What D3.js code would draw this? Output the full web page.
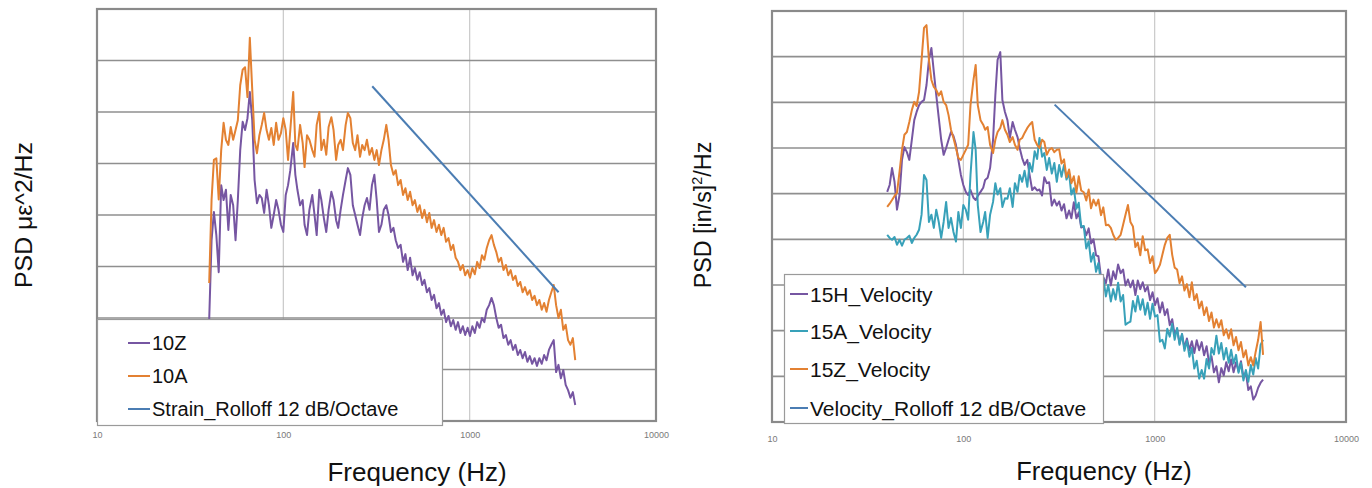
<!DOCTYPE html>
<html><head><meta charset="utf-8">
<script src="https://cdn.jsdelivr.net/npm/d3@7"></script>
<style>html,body{margin:0;padding:0;background:#fff}svg{display:block}</style>
</head><body>
<svg id="c" width="1372" height="488"></svg>
<script>
// ---------- DATA ----------
const xTicks = [10, 100, 1000, 10000];
const freqs = [
40,41.2,42.4,43.7,45,46.4,47.8,49.2,50.7,52.2,
53.8,55.4,57,58.7,60.5,62.3,64.2,66.1,68.1,70.1,
72.2,74.4,76.6,78.9,81.3,83.7,86.2,88.8,91.5,94.2,
97.1,100,103,106,109,113,116,119,123,127,
130,134,138,143,147,151,156,160,165,170,
175,181,186,192,197,203,209,216,222,229,
236,243,250,258,265,273,281,290,299,308,
317,326,336,346,357,367,378,390,401,413,
426,439,452,465,479,494,508,524,539,556,
572,590,607,625,644,664,684,704,725,747,
770,793,816,841,866,892,919,946,975,1004,
1034,1065,1097,1130,1164,1199,1235,1272,1310,1349,
1390,1431,1474,1519,1564,1611,1659,1709,1761,1813,
1868,1924,1981,2041,2102,2165,2230,2297,2366,2437,
2510,2585,2663,2743,2825,2910,2997,3087,3180,3275,
3373,3474,3579,3686];

// Strain PSD (dB, relative) — 10Z and 10A
const s10Z = [
-60.4,-44.9,-39.4,-43.9,-51.1,-34.2,-37.1,-35.1,-42.9,-36.1,
-38.1,-44.9,-37.1,-27.4,-21.9,-23.5,-21.2,-16.1,-21.6,-33.2,
-37.7,-36.1,-36.7,-39.6,-35.1,-38.1,-42.5,-40,-37.1,-39,
-41.9,-43.3,-36.1,-34.2,-31.3,-26,-32.2,-35.1,-38.1,-37.1,
-41.9,-43.9,-39,-36.1,-40,-43.9,-35.1,-37.1,-40.6,-43.3,
-39,-35.5,-37.1,-41,-42.5,-39,-36.1,-33.2,-30.9,-32.2,
-38.1,-40,-41.9,-43.9,-40.6,-38.1,-36.7,-39,-34.2,-32.2,
-37.1,-43.3,-41.9,-39,-38.1,-40,-43.3,-42.5,-44.9,-46.4,
-45.8,-49.1,-47.6,-50.7,-48.3,-51.7,-50.3,-52.6,-51.1,-53.6,
-52.6,-55,-54.2,-56.5,-55.5,-58.1,-57.1,-59.4,-58.4,-60.8,
-59.6,-61.6,-60.4,-62.3,-60.8,-62.9,-61.6,-63.3,-61.9,-63.5,
-61.6,-62.9,-60.8,-61.9,-60,-60.8,-58.4,-57.5,-56.1,-57.5,
-60,-61.9,-61.3,-63.9,-63.3,-65.2,-64.3,-66.2,-65.2,-67.2,
-66.2,-67.8,-66.6,-68.5,-67.4,-68.9,-67.8,-69.3,-67.8,-68.9,
-67.2,-68.2,-66.2,-65.2,-64.3,-70.5,-69.1,-71.7,-70.1,-73,
-74,-75.5,-74.4,-76.9];
const s10A = [
-53.2,-37,-29.3,-29,-37,-27.4,-22.1,-25.4,-26.4,-22.9,
-25.4,-23.5,-21.6,-14.8,-11.8,-11.3,-17.1,-5.6,-15.7,-25.4,
-28,-24.5,-22.5,-20.2,-23.5,-25.4,-23.1,-26.4,-22.1,-25.4,
-24.1,-21.2,-23.5,-29.3,-23.5,-16.1,-26.4,-27.4,-22.5,-26,
-30.7,-24.5,-25.4,-27.4,-28.7,-22.5,-20,-27.4,-25.4,-28.3,
-22.9,-21,-23.5,-29.3,-26.4,-25.4,-27.4,-22.5,-20.2,-21.2,
-26,-27.4,-24.5,-28.7,-26.4,-27.4,-25.4,-28.3,-27,-29.3,
-27.4,-30.3,-27.4,-25.4,-22.5,-25.4,-30.3,-32.2,-31.3,-34.2,
-33.2,-36.1,-34.8,-37.1,-35.5,-38.1,-37.1,-39.4,-38.1,-40.6,
-39,-41.4,-39.6,-42.5,-41,-43.3,-41.9,-43.9,-42.5,-45.2,
-44.5,-46.8,-45.8,-48.3,-49.1,-50.7,-49.7,-51.7,-50.7,-52.2,
-50.3,-51.5,-49.1,-50.3,-47.8,-48.7,-46.4,-44.9,-43.9,-45.8,
-47.2,-49.1,-48.3,-50.7,-49.7,-51.7,-50.7,-52.6,-51.8,-53.8,
-53,-55,-54,-55.5,-54.6,-56.5,-55.7,-57.5,-56.5,-58.4,
-57.1,-58.8,-56.5,-55,-53.6,-57.5,-60,-58.4,-62.3,-61.3,
-64.3,-65.2,-63.9,-68.2];

// Velocity PSD (dB, relative) — 15H, 15A, 15Z
const s15H = [
-39.6,-38.1,-34.4,-37.4,-43.5,-40.3,-32.6,-29.8,-30.9,-32.6,
-28.2,-23.9,-22.1,-20.6,-19.9,-19.5,-16.2,-10.7,-8.1,-13.3,
-18.4,-23.4,-28.2,-31.5,-30,-28.2,-26.5,-27.4,-29.3,-32.6,
-35.9,-38.1,-39.6,-40.3,-39.2,-40.9,-41.4,-40.5,-39.6,-38.7,
-37,-36.5,-34.4,-28.2,-18.4,-10.7,-9,-19.5,-22.1,-23.9,
-27.8,-24.3,-26,-27.6,-30,-32.2,-33.7,-32.6,-35.9,-39.2,
-38.6,-39.3,-39.1,-40.4,-36.4,-37.7,-37.5,-42.6,-41.3,-42.6,
-41.7,-43.7,-42.3,-45.4,-43.7,-45.4,-41.9,-45.4,-44.1,-47.4,
-47.2,-49.1,-47.6,-50.9,-50,-53.5,-53.7,-58.3,-58.3,-59.6,
-56.6,-60.1,-57,-58.7,-55.5,-57.4,-56.6,-60.1,-58.8,-60.5,
-59,-62.2,-59,-60.9,-59.4,-61.4,-60.3,-63.3,-61.6,-64.4,
-62.9,-66,-63.8,-66.6,-65.3,-68.8,-67.5,-71,-69.7,-72.8,
-70.8,-73.8,-71.7,-74.3,-72.3,-74.9,-72.1,-74.3,-72.5,-75.4,
-73.4,-77.1,-75.6,-79.1,-77.8,-81.3,-78.2,-79.8,-76.9,-78.9,
-76.3,-79.1,-76.9,-78.9,-76.7,-80.2,-79.1,-83,-82.2,-85.1,
-84.2,-82.5,-81.4,-80.7];
const s15A = [
-49,-49.7,-50.1,-49.5,-51.2,-50.1,-51.4,-50.1,-49.7,-49.2,
-50.8,-49.7,-49,-47.9,-44.6,-35.9,-37,-46.2,-44.6,-47.5,
-43.5,-46.2,-49.7,-46.2,-41.8,-47.5,-45.3,-48.4,-50.5,-44,
-47.5,-42.5,-43.5,-45.7,-35.9,-26.5,-30.4,-42.5,-48.4,-46.2,
-44,-49.7,-44.6,-41.8,-37.7,-40.2,-38.8,-42.9,-41,-41.1,
-38.8,-42.9,-37.7,-39.6,-35.9,-37.4,-35,-38.5,-33.3,-35.2,
-30.7,-32.4,-27.8,-31.9,-31.1,-34.8,-32.2,-35.6,-33.3,-37.4,
-33.7,-36.3,-33.7,-36.9,-35.5,-40.2,-38.8,-43.3,-42,-47.2,
-47.1,-52,-50.4,-54.9,-53,-57.1,-55.2,-59.5,-58.5,-62.5,
-60,-63.6,-60.9,-63.2,-59.5,-63.6,-62.2,-68.7,-68.3,-68,
-63.5,-65.8,-62.4,-65.4,-63.1,-66.5,-63.9,-67.4,-64.1,-66.9,
-66.6,-72.4,-72,-73.9,-69.6,-71.3,-68.5,-72,-69.4,-73.1,
-70.7,-74.4,-72.2,-75.7,-73.8,-78.3,-76.6,-80.5,-78.6,-80.5,
-76.2,-78.3,-73.8,-75.2,-71.1,-75,-72.7,-76.3,-73.8,-77,
-74.2,-77.2,-75.3,-79.2,-77.1,-80.9,-78.6,-81.2,-77.5,-79.6,
-76,-78.3,-73.1,-72];
const s15Z = [
-42.9,-42.2,-41.4,-40.5,-39.8,-35.2,-30.4,-27.1,-26.5,-24.3,
-21.7,-19.9,-20.8,-17.7,-10.7,-3.7,-3.1,-10.7,-15.1,-16.6,
-17.3,-18.5,-17.6,-19.9,-20.6,-22.8,-26,-27.8,-30,-32.2,
-32.6,-31.5,-30.4,-29.3,-20.6,-15.1,-11.8,-20.6,-23.9,-24.9,
-26,-25.4,-29.3,-31.1,-28.2,-26.5,-25.6,-23.9,-26,-27.1,
-28.7,-27.6,-29.3,-30.4,-28.2,-27.8,-26.7,-25.6,-24.9,-24.3,
-28.2,-29.3,-30,-28.2,-28.7,-31.5,-30.4,-30,-30.9,-30.4,
-30.3,-33.4,-32.5,-36.4,-34.7,-37.7,-36.2,-39.7,-36.2,-39.3,
-39.7,-41.5,-39.1,-43.2,-41.3,-42.6,-41.3,-44.7,-43,-46.9,
-46.8,-47.5,-49,-50.1,-49.7,-49,-46.8,-44.6,-42.5,-46.2,
-47.2,-51.7,-50.7,-53.5,-49.3,-52.4,-52.2,-55.2,-53.7,-57.4,
-56.7,-55.6,-53.4,-51.2,-49.7,-49,-53.4,-56.2,-56.6,-59.6,
-58.1,-61.2,-59.8,-62.7,-59.4,-63.3,-62,-65.1,-63.6,-66.6,
-64.9,-67.9,-66,-69.3,-67.5,-69.3,-67.7,-71,-69.7,-71.7,
-69.7,-73.2,-71.4,-74.3,-72.5,-75.8,-74.3,-77.6,-75.8,-77.6,
-74.6,-72,-68.1,-75.3];

// 12 dB/Octave roll-off reference lines
const rollFreqs = [300, 3000];
const strainRoll = [-15, -55];
const velRoll = [-20.5, -60.5];

// ---------- STYLE / LAYOUT ----------
const COL = {purple:"#7656a2", orange:"#e38132", teal:"#38a1b9", blue:"#4b7db3"};
const FONT = "'Liberation Sans', Arial, Helvetica, sans-serif";

const charts = [
  { x0:97, x1:656, y0:9, y1:421, db:[-80,0], yStep:10,
    series:[{v:s10Z,c:COL.purple,n:"10Z"},{v:s10A,c:COL.orange,n:"10A"}],
    roll:strainRoll, rollName:"Strain_Rolloff 12 dB/Octave",
    leg:{x:97,y:319,w:345,h:106,rows:[343,376,409],l0:128,l1:150,tx:152,fs:20},
    tickPad:11, xt:{x:417,y:481,fs:26},
    yl:{x:32,y:215,fs:24.8,parts:[["PSD με^2/Hz",false]]} },
  { x0:772, x1:1346, y0:11, y1:422, db:[-90,0], yStep:10,
    series:[{v:s15H,c:COL.purple,n:"15H_Velocity"},{v:s15A,c:COL.teal,n:"15A_Velocity"},{v:s15Z,c:COL.orange,n:"15Z_Velocity"}],
    roll:velRoll, rollName:"Velocity_Rolloff 12 dB/Octave",
    leg:{x:784,y:274,w:319,h:149,rows:[294,331,369,408],l0:790,l1:808,tx:810,fs:21},
    tickPad:14, xt:{x:1104,y:480,fs:25.5},
    yl:{x:711,y:215,fs:23.3,parts:[["PSD [in/s]",false],["2",true],["/Hz",false]]} }
];

const svg = d3.select("#c");

charts.forEach((ch, k) => {
  const x = d3.scaleLog().domain([10, 10000]).range([ch.x0, ch.x1]);
  const y = d3.scaleLinear().domain(ch.db).range([ch.y1, ch.y0]);
  const g = svg.append("g");

  const clipId = "clip" + k;
  svg.append("clipPath").attr("id", clipId).append("rect")
    .attr("x", ch.x0).attr("y", ch.y0).attr("width", ch.x1 - ch.x0).attr("height", ch.y1 - ch.y0);

  // vertical grid (decades)
  g.selectAll(".vg").data(xTicks.slice(1, -1)).enter().append("line")
    .attr("x1", d => x(d)).attr("x2", d => x(d)).attr("y1", ch.y0).attr("y2", ch.y1)
    .attr("stroke", "#c9c9c9").attr("stroke-width", 1.2);
  // horizontal grid
  const yt = d3.range(ch.db[0] + ch.yStep, ch.db[1], ch.yStep);
  g.selectAll(".hg").data(yt).enter().append("line")
    .attr("x1", ch.x0).attr("x2", ch.x1).attr("y1", d => y(d)).attr("y2", d => y(d))
    .attr("stroke", "#8f8f8f").attr("stroke-width", 1.6);
  // frame
  g.append("rect").attr("x", ch.x0).attr("y", ch.y0)
    .attr("width", ch.x1 - ch.x0).attr("height", ch.y1 - ch.y0)
    .attr("fill", "none").attr("stroke", "#8a8a8a").attr("stroke-width", 2.2);

  // series
  const line = d3.line().x((d, i) => x(freqs[i])).y(d => y(d));
  const pg = g.append("g").attr("clip-path", `url(#${clipId})`);
  ch.series.forEach(s => {
    pg.append("path").datum(s.v).attr("d", line)
      .attr("fill", "none").attr("stroke", s.c).attr("stroke-width", 2)
      .attr("stroke-linejoin", "round");
  });
  const rl = d3.line().x((d, i) => x(rollFreqs[i])).y(d => y(d));
  pg.append("path").datum(ch.roll).attr("d", rl)
    .attr("fill", "none").attr("stroke", COL.blue).attr("stroke-width", 2);

  // x axis tick labels
  const ax = g.append("g").attr("transform", `translate(0,${ch.y1})`)
    .call(d3.axisBottom(x).tickValues(xTicks).tickFormat(d3.format("d")).tickSize(0).tickPadding(ch.tickPad));
  ax.select(".domain").remove();
  ax.selectAll("text").attr("font-family", FONT).attr("font-size", 9).attr("fill", "#7a7a7a");

  // x title
  g.append("text").attr("x", ch.xt.x).attr("y", ch.xt.y).attr("text-anchor", "middle")
    .attr("font-family", FONT).attr("font-size", ch.xt.fs).attr("fill", "#111").text("Frequency (Hz)");

  // y title
  const yt2 = g.append("text").attr("transform", `translate(${ch.yl.x},${ch.yl.y}) rotate(-90)`)
    .attr("text-anchor", "middle").attr("font-family", FONT).attr("font-size", ch.yl.fs).attr("fill", "#111");
  ch.yl.parts.forEach(p => {
    const t = yt2.append("tspan").text(p[0]);
    if (p[1]) t.attr("font-size", ch.yl.fs * 0.62).attr("dy", -ch.yl.fs * 0.38);
    else if (yt2.selectAll("tspan").size() > 1) t.attr("dy", ch.yl.fs * 0.38);
  });

  // legend
  const L = ch.leg;
  const lg = g.append("g");
  lg.append("rect").attr("x", L.x + 0.5).attr("y", L.y + 0.5).attr("width", L.w).attr("height", L.h)
    .attr("fill", "#fff").attr("stroke", "#9a9a9a").attr("stroke-width", 1.2);
  const items = ch.series.map(s => ({n: s.n, c: s.c})).concat([{n: ch.rollName, c: COL.blue}]);
  items.forEach((it, i) => {
    const ry = L.rows[i];
    lg.append("line").attr("x1", L.l0).attr("x2", L.l1).attr("y1", ry).attr("y2", ry)
      .attr("stroke", it.c).attr("stroke-width", 2);
    lg.append("text").attr("x", L.tx).attr("y", ry).attr("dy", "0.36em")
      .attr("font-family", FONT).attr("font-size", L.fs).attr("fill", "#111").text(it.n);
  });
});
</script>
</body></html>
